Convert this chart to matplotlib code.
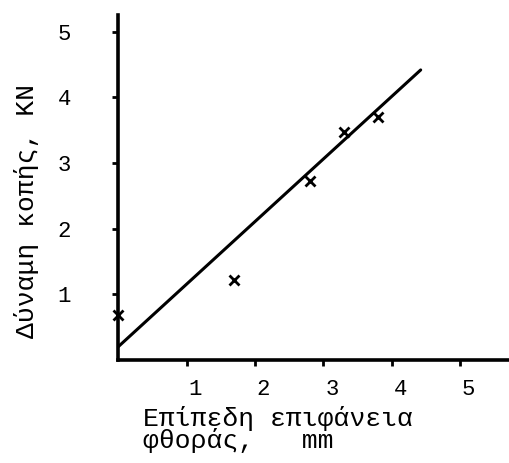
import matplotlib
matplotlib.use('Agg')
import matplotlib.pyplot as plt
import matplotlib.transforms as mtransforms
import numpy as np

# measured points: flank wear land vs cutting force
wear = [0.0, 1.7, 2.8, 3.3, 3.8]
force = [0.68, 1.22, 2.72, 3.47, 3.7]

# fitted straight line
fit_x = [0.0, 4.42]
fit_y = [0.2, 4.42]

xticks = [1, 2, 3, 4, 5]
yticks = [1, 2, 3, 4, 5]

mono = 'Liberation Mono'

fig = plt.figure(figsize=(5.09, 4.63), dpi=100)
ax = fig.add_axes([0.232, 0.2225, 0.768, 0.7455])

ax.plot(fit_x, fit_y, color='black', lw=2.2, solid_capstyle='round')
ax.plot(wear, force, 'x', color='black', ms=7, mew=2, clip_on=False)

ax.set_xlim(0, 5.71)
ax.set_ylim(0, 5.26)
ax.set_xticks(xticks)
ax.set_yticks(yticks)
ax.set_xticklabels([str(t) for t in xticks], family=mono, fontsize=16)
ax.set_yticklabels([str(t) for t in yticks], family=mono, fontsize=16)
ax.tick_params(axis='x', direction='out', length=4, width=2, pad=10)
ax.tick_params(axis='y', direction='out', length=4, width=2, pad=30)

# typed numbers sit a little right of their ticks
shift = mtransforms.ScaledTranslation(6 / 72, 0, fig.dpi_scale_trans)
for lab in ax.get_xticklabels():
    lab.set_transform(lab.get_transform() + shift)

for s in ['top', 'right']:
    ax.spines[s].set_visible(False)
for s in ['left', 'bottom']:
    ax.spines[s].set_linewidth(2.6)

fig.text(0.281, 0.073, 'Επίπεδη επιφάνεια\nφθοράς,   mm', family=mono,
         fontsize=19, ha='left', va='center', linespacing=0.85)
fig.text(0.053, 0.544, 'Δύναμη κοπής, KN', family=mono, fontsize=19,
         rotation=90, ha='center', va='center')

fig.savefig('out.png', dpi=100)
